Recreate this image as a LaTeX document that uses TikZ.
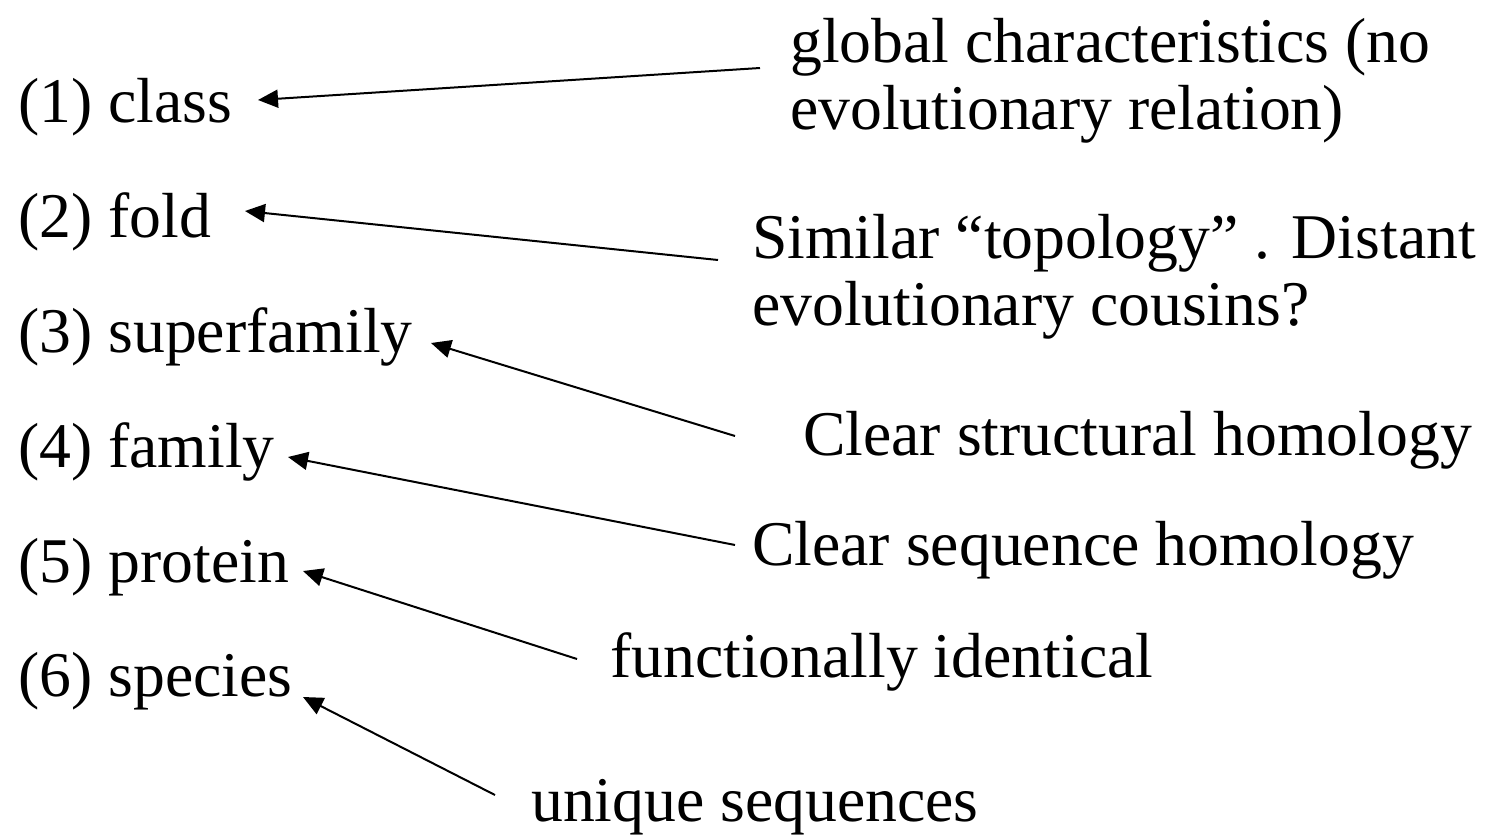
\documentclass[tikz,border=0pt]{standalone}
\usepackage{fontspec}
\setmainfont{Liberation Serif}
\usetikzlibrary{arrows.meta}
\begin{document}
\begin{tikzpicture}[x=1pt,y=-1pt,
  lbl/.style={anchor=base west,inner sep=0pt,font=\fontsize{63.7}{63.7}\selectfont},
  conn/.style={line width=2pt,-{Triangle[length=20pt,width=18pt]}}]
\useasboundingbox (0,0) rectangle (1485,835);
\node[lbl] (l1) at (18,122) {(1) class};
\node[lbl] (l2) at (18,237) {(2) fold};
\node[lbl] (l3) at (18,352) {(3) superfamily};
\node[lbl] (l4) at (18,467) {(4) family};
\node[lbl] (l5) at (18,582) {(5) protein};
\node[lbl] (l6) at (18,696) {(6) species};
\node[lbl] (r1a) at (790,62) {global characteristics (no};
\node[lbl] (r1b) at (790,129) {evolutionary relation)};
\node[lbl] (r2a) at (752,258) {Similar “topology” . Distant};
\node[lbl] (r2b) at (752,325) {evolutionary cousins?};
\node[lbl] (r3) at (803,455) {Clear structural homology};
\node[lbl] (r4) at (752,565) {Clear sequence homology};
\node[lbl] (r5) at (610,677) {functionally identical};
\node[lbl] (r6) at (531,821) {unique sequences};
\coordinate (t1) at (760,68);  \coordinate (h1) at (258,100);
\coordinate (t2) at (718,260); \coordinate (h2) at (245,211);
\coordinate (t3) at (735,436); \coordinate (h3) at (431,343);
\coordinate (t4) at (735,545); \coordinate (h4) at (288,457);
\coordinate (t5) at (577,659); \coordinate (h5) at (303,571);
\coordinate (t6) at (495,795); \coordinate (h6) at (303,697);
\draw[conn] (t1) -- (h1);
\draw[conn] (t2) -- (h2);
\draw[conn] (t3) -- (h3);
\draw[conn] (t4) -- (h4);
\draw[conn] (t5) -- (h5);
\draw[conn] (t6) -- (h6);
\end{tikzpicture}
\end{document}
